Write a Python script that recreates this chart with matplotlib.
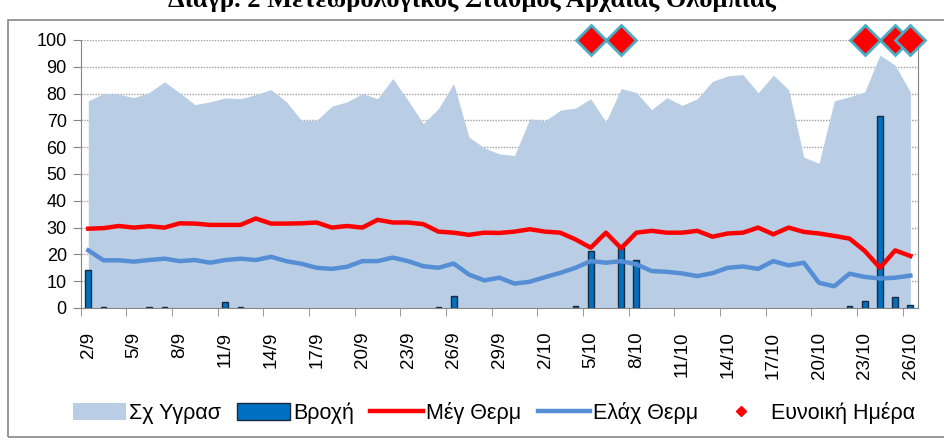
import matplotlib
matplotlib.use("Agg")
import matplotlib.pyplot as plt
from matplotlib.patches import Patch, Rectangle
from matplotlib.lines import Line2D
import numpy as np

plt.rcParams['font.family'] = ['Liberation Sans', 'DejaVu Sans']

# ---- data ----
tick_labels = ['2/9', '5/9', '8/9', '11/9', '14/9', '17/9', '20/9', '23/9', '26/9',
               '29/9', '2/10', '5/10', '8/10', '11/10', '14/10', '17/10', '20/10',
               '23/10', '26/10']

humidity = [77.3, 80, 79.8, 78.5, 80.4, 84.4, 80.3, 75.9, 76.9, 78.4, 78.1, 79.6, 81.5, 77,
            70, 70, 75.3, 76.9, 80, 78.1, 85.6, 77.5, 68.8, 74.4, 83.8, 63.8, 59.8, 57.5,
            56.9, 70.6, 69.8, 73.8, 74.6, 78.1, 69.4, 81.9, 80.4, 74, 78.5, 75.6, 78.1, 84.6,
            86.6, 87.1, 80.3, 86.9, 81.5, 56.3, 54, 77.3, 78.8, 80.6, 94.4, 90.6, 80.6]

rain = [14.2, 0.3, 0, 0, 0.3, 0.3, 0, 0, 0, 2.2, 0.3, 0, 0, 0,
        0, 0, 0, 0, 0, 0, 0, 0, 0, 0.3, 4.5, 0, 0, 0,
        0, 0, 0, 0, 0.8, 21.3, 0, 22.5, 18, 0, 0, 0, 0, 0,
        0, 0, 0, 0, 0, 0, 0, 0, 0.8, 2.6, 71.6, 4.1, 1.3]

max_temp = [29.6, 29.8, 30.6, 30, 30.5, 30, 31.6, 31.5, 31, 31, 31, 33.4, 31.5, 31.5,
            31.6, 31.9, 30, 30.6, 30, 32.9, 31.9, 31.9, 31.3, 28.5, 28.1, 27.3, 28.1, 28.0,
            28.5, 29.4, 28.5, 28.1, 25.6, 22.5, 28.1, 22.3, 28.1, 28.8, 28.1, 28.1, 28.8, 26.6,
            27.8, 28.1, 30, 27.5, 30, 28.4, 27.8, 26.9, 25.9, 21.3, 15, 21.5, 19.4]

min_temp = [21.5, 17.8, 17.8, 17.3, 17.9, 18.4, 17.5, 17.9, 16.9, 17.9, 18.4, 17.9, 19.1, 17.5,
            16.5, 15, 14.6, 15.4, 17.5, 17.5, 18.8, 17.5, 15.6, 15, 16.6, 12.5, 10.3, 11.3,
            9.1, 9.8, 11.5, 13.1, 15, 17.5, 16.9, 17.5, 16.3, 13.8, 13.5, 12.9, 11.9, 13,
            15, 15.5, 14.6, 17.5, 15.9, 16.9, 9.4, 8.1, 12.8, 11.6, 11, 11.3, 12.1]

fav_idx = [33, 35, 51, 53, 54]
fav_val = [100, 100, 100, 100, 100]

# ---- figure ----
W, H = 944, 441
fig = plt.figure(figsize=(W / 100, H / 100), dpi=100)
ax = fig.add_axes([80.7 / W, 1 - 308 / H, (918 - 80.7) / W, (308 - 40) / H])

n = len(humidity)
x = np.arange(n)

area_c = '#B9CDE5'
bar_c = '#0070C0'
red_c = '#FF0000'
blue_c = '#558ED5'

ax.fill_between(x, 0, humidity, color=area_c, lw=0, zorder=1)
rain_arr = np.array(rain)
nz = rain_arr > 0
ax.bar(x[nz], rain_arr[nz], width=0.38, color=bar_c, edgecolor='#1A2A3F',
       linewidth=1.0, zorder=2)
ax.plot(x, max_temp, color=red_c, lw=3.2, zorder=3, solid_joinstyle='round')
ax.plot(x, min_temp, color=blue_c, lw=3.2, zorder=3, solid_joinstyle='round')
ax.plot(fav_idx, fav_val, linestyle='none', marker='D', ms=15, mfc=red_c,
        mec='#4BACC6', mew=2, zorder=5, clip_on=False)

ax.set_xlim(-0.5, n - 0.5)
ax.set_ylim(0, 100)
ax.set_yticks(np.arange(0, 101, 10))
ax.tick_params(axis='y', labelsize=13, length=6, color='#868686', pad=4)
ax.yaxis.grid(True, linestyle=(0, (1, 1)), color='#A0A0A0', lw=1, zorder=0)
ax.set_axisbelow(True)

ax.set_xticks(np.arange(0, n, 3))
ax.set_xticklabels(tick_labels, rotation=90, fontsize=13.5)
ax.tick_params(axis='x', which='major', length=0, pad=17)
ax.set_xticks(np.arange(-0.5, n - 0.5, 3), minor=True)
ax.tick_params(axis='x', which='minor', length=6, color='#868686')

for s in ['left', 'bottom', 'right']:
    ax.spines[s].set_color('#868686')
ax.spines['top'].set_visible(False)

# chart frame
fig.patches.append(Rectangle((8 / W, 4 / H), 1.2, 1 - 24 / H, transform=fig.transFigure,
                             fill=False, edgecolor='#868686', lw=1.2, zorder=0))

fig.text(0.5, 1 - 7 / H, 'Διαγρ. 2 Μετεωρολογικός Σταθμός Αρχαίας Ολυμπίας',
         ha='center', va='baseline', fontsize=19, fontweight='bold',
         family=['Liberation Serif', 'DejaVu Serif'])

handles = [Patch(facecolor=area_c, edgecolor='none'),
           Patch(facecolor=bar_c, edgecolor='#1A2A3F', lw=1),
           Line2D([], [], color=red_c, lw=3.2),
           Line2D([], [], color=blue_c, lw=3.2),
           Line2D([], [], color=red_c, marker='D', ms=5, linestyle='none')]
labels = ['Σχ Υγρασ', 'Βροχή', 'Μέγ Θερμ', 'Ελάχ Θερμ', 'Ευνοική Ημέρα']
fig.legend(handles, labels, loc='center', bbox_to_anchor=(494 / W, 1 - 413 / H), ncol=5,
           frameon=False, fontsize=15.5, handlelength=2.45, handletextpad=0.15,
           columnspacing=0.75, handleheight=0.85)

fig.savefig('out.png', dpi=100)
